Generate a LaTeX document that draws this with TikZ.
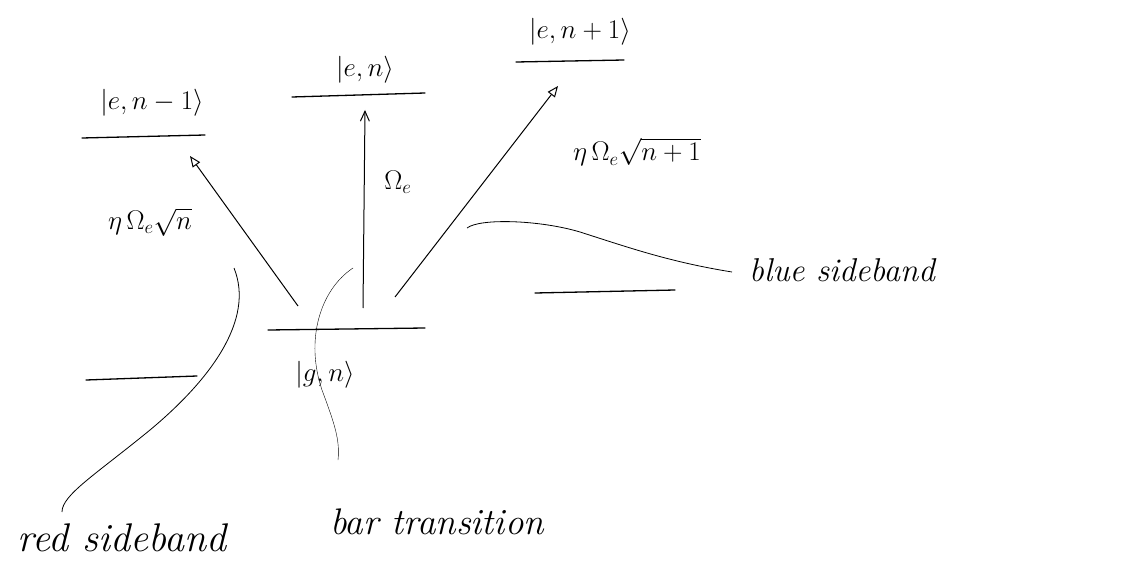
\RequirePackage{fix-cm}
\documentclass[tikz,border=0pt]{standalone}
\usetikzlibrary{arrows.meta}
\begin{document}
\begin{tikzpicture}[x=1pt,y=-1pt,
  level/.style={line width=1.3pt, line cap=round},
  trans/.style={line width=1pt},
  callout/.style={line width=0.8pt},
  thin callout/.style={line width=0.4pt},
  lbl/.style={font=\fontsize{27}{29}\selectfont, inner sep=1pt},
  txt/.style={inner sep=1pt}]
\useasboundingbox (0,0) rectangle (1123,564);
% levels
\coordinate (enm1L) at (82,138); \coordinate (enm1R) at (205,135);
\coordinate (enL) at (292,97);   \coordinate (enR) at (425,93);
\coordinate (enp1L) at (516,62); \coordinate (enp1R) at (624,60);
\coordinate (gnL) at (268,330);  \coordinate (gnR) at (425,328);
\coordinate (gnm1L) at (86,380); \coordinate (gnm1R) at (197,376);
\coordinate (gnp1L) at (535,293);\coordinate (gnp1R) at (675,290);
\draw[level] (enm1L) -- (enm1R);
\draw[level] (enL) -- (enR);
\draw[level] (enp1L) -- (enp1R);
\draw[level] (gnL) -- (gnR);
\draw[level] (gnm1L) -- (gnm1R);
\draw[level] (gnp1L) -- (gnp1R);
% state labels
\node[lbl] (len1) at (152,103) {$|e,n-1\rangle$};
\node[lbl] (len)  at (365,70)  {$|e,n\rangle$};
\node[lbl] (lenp) at (580,32)  {$|e,n+1\rangle$};
\node[lbl] (lgn)  at (325,375) {$|g,n\rangle$};
% transitions
\coordinate (rs0) at (298,306); \coordinate (rs1) at (190,156);
\coordinate (ca0) at (363,308); \coordinate (ca1) at (365,110);
\coordinate (bs0) at (395,297); \coordinate (bs1) at (558,86);
\draw[trans,-{Triangle[open,length=11pt,width=9pt]}] (rs0) -- (rs1);
\draw[trans,-{Straight Barb[length=10pt,width=9pt]}] (ca0) -- (ca1);
\draw[trans,-{Triangle[open,length=11pt,width=9pt]}] (bs0) -- (bs1);
% rate labels
\node[lbl] (rrate) at (150,222) {$\eta\,\Omega_e\sqrt{n}$};
\node[lbl] (crate) at (398,182) {$\Omega_e$};
\node[lbl] (brate) at (637,152) {$\eta\,\Omega_e\sqrt{n+1}$};
% callout texts
\node[txt,font=\fontsize{40}{42}\selectfont\itshape] (tred)  at (122,538) {red sideband};
\node[txt,font=\fontsize{37}{39}\selectfont\itshape] (tbar)  at (437,522) {bar transition};
\node[txt,font=\fontsize{33}{35}\selectfont\itshape] (tblue) at (842,270) {blue sideband};
% callouts
\coordinate (cr0) at (234,268); \coordinate (cr1) at (62,512);
\draw[callout] (cr0) .. controls (255,320) and (210,380) .. (150,430)
  .. controls (95,475) and (62,495) .. (cr1);
\coordinate (cb0) at (353,268); \coordinate (cb1) at (338,460);
\draw[thin callout] (cb0) .. controls (320,290) and (305,340) .. (322,390)
  .. controls (335,425) and (340,440) .. (cb1);
\coordinate (cu0) at (467,228); \coordinate (cu1) at (732,272);
\draw[callout] (cu0) .. controls (480,218) and (540,220) .. (580,232)
  .. controls (630,248) and (670,262) .. (cu1);
\end{tikzpicture}
\end{document}
